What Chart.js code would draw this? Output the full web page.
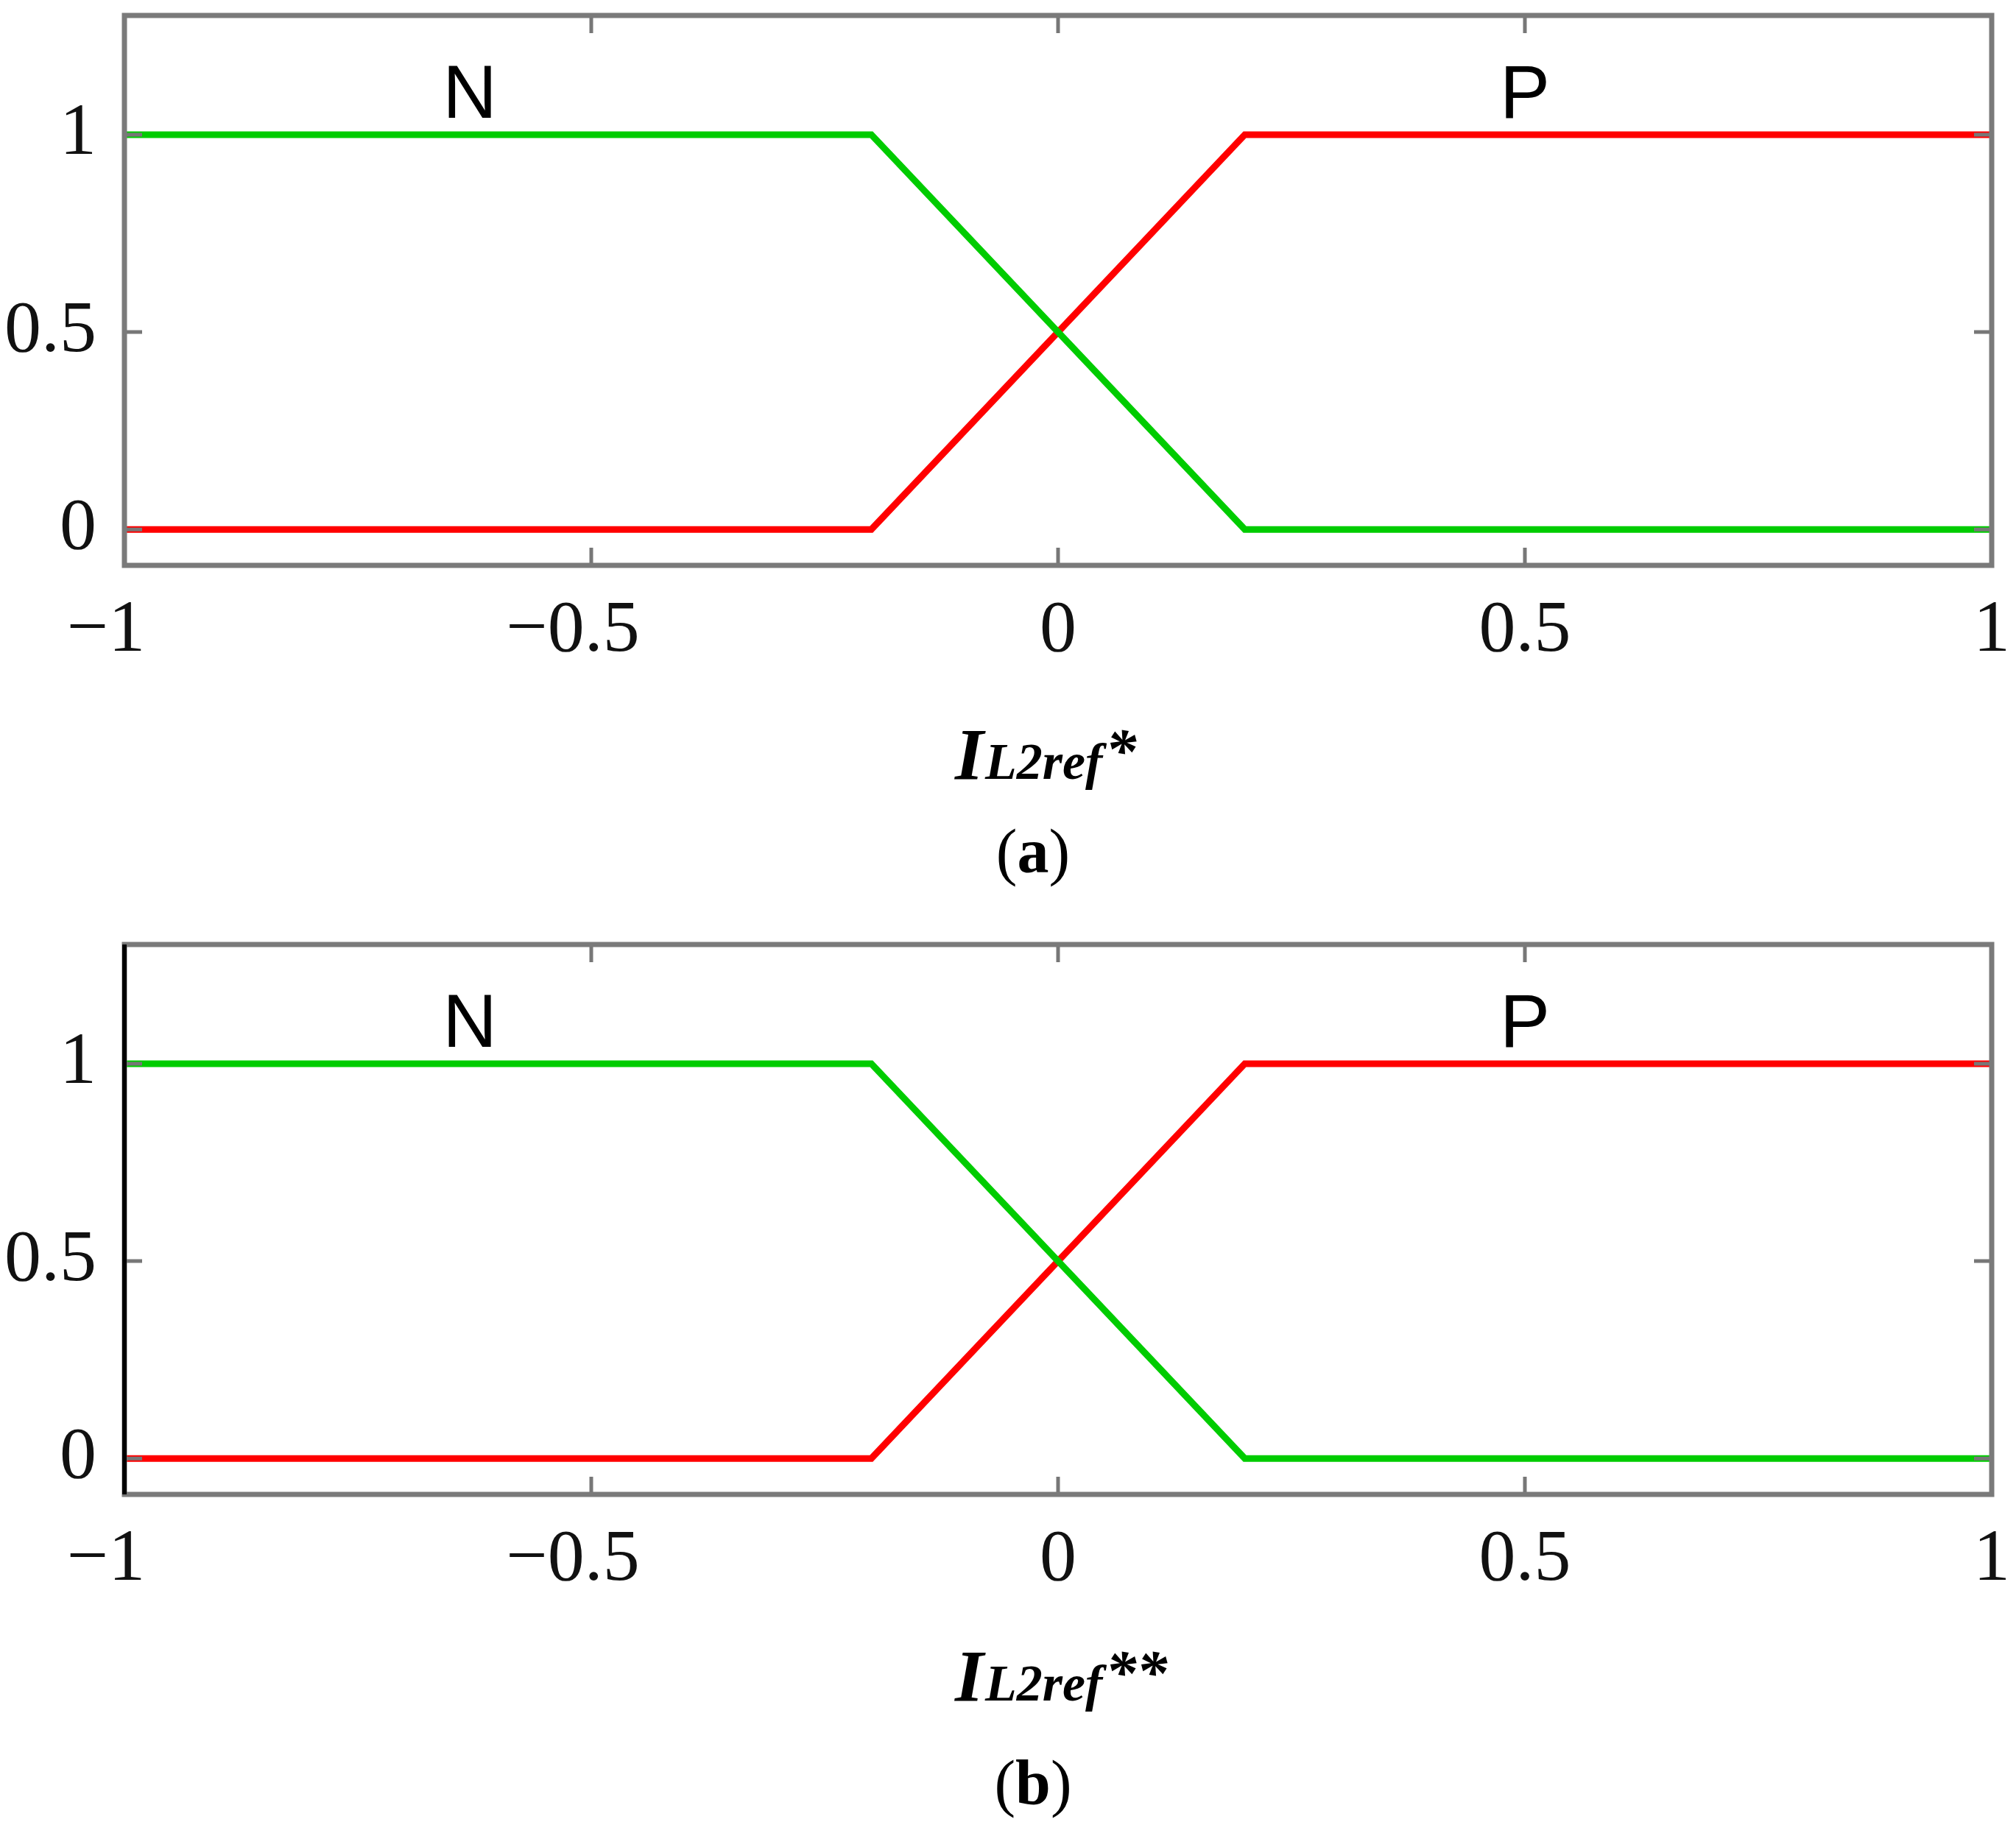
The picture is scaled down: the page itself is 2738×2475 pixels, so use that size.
<!DOCTYPE html>
<html>
<head>
<meta charset="utf-8">
<script src="https://cdn.jsdelivr.net/npm/chart.js@4/dist/chart.umd.min.js"></script>
<style>
  body { margin: 0; background: #fff; }
  canvas { position: absolute; left: 0; }
</style>
</head>
<body>
<canvas id="chartA" width="2738" height="1262" style="top:0px"></canvas>
<canvas id="chartB" width="2738" height="1213" style="top:1262px"></canvas>
<script>
// membership functions (same in both panels)
var xPoints = [-1, -0.2, 0.2, 1];
var negValues = [1, 1, 0, 0];
var posValues = [0, 0, 1, 1];
var xTicks = [-1, -0.5, 0, 0.5, 1];
var yTicks = [0, 0.5, 1];
var setNames = ['N', 'P'];
var setNameX = [-0.63, 0.5];
var setNameY = 1.043;

function pts(vals) {
  return xPoints.map(function(x, i) { return { x: x, y: vals[i] }; });
}

// minus sign hangs to the left, the number itself stays centred on the tick
function xTickText(v) {
  if (v < 0) return '\u2212' + String(-v) + '\u00a0\u00a0';
  return String(v);
}

var serif = '"Liberation Serif", "Times New Roman", serif';

var framePlugin = {
  id: 'frame',
  afterDraw: function(chart, args, opts) {
    var ctx = chart.ctx, a = chart.chartArea;
    var xs = chart.scales.x, ys = chart.scales.y;
    ctx.save();
    // inward ticks on all four sides
    ctx.strokeStyle = '#777';
    ctx.lineWidth = 5;
    ctx.beginPath();
    xTicks.forEach(function(v) {
      var px = xs.getPixelForValue(v);
      ctx.moveTo(px, a.bottom); ctx.lineTo(px, a.bottom - 24);
      ctx.moveTo(px, a.top); ctx.lineTo(px, a.top + 24);
    });
    yTicks.forEach(function(v) {
      var py = ys.getPixelForValue(v);
      ctx.moveTo(a.left, py); ctx.lineTo(a.left + 24, py);
      ctx.moveTo(a.right, py); ctx.lineTo(a.right - 24, py);
    });
    ctx.stroke();
    // box
    ctx.strokeStyle = '#7a7a7a';
    ctx.lineWidth = 7;
    ctx.strokeRect(a.left, a.top, a.right - a.left, a.bottom - a.top);
    if (opts.leftColor) {
      ctx.strokeStyle = opts.leftColor;
      ctx.lineWidth = 6;
      ctx.beginPath();
      ctx.moveTo(a.left, a.top); ctx.lineTo(a.left, a.bottom);
      ctx.stroke();
    }
    // set names
    ctx.fillStyle = '#000';
    ctx.font = '102px "Liberation Sans", Arial, sans-serif';
    ctx.textAlign = 'center';
    ctx.textBaseline = 'alphabetic';
    setNames.forEach(function(n, i) {
      ctx.fillText(n, xs.getPixelForValue(setNameX[i]), ys.getPixelForValue(setNameY));
    });
    // axis title I_L2ref*
    var tx = 1297, ty = a.bottom + opts.titleOffset;
    ctx.textAlign = 'left';
    ctx.font = 'italic bold 100px ' + serif;
    ctx.fillText('I', tx, ty);
    tx += ctx.measureText('I').width + 2;
    ctx.font = 'italic bold 70px ' + serif;
    ctx.fillText('L2ref', tx, ty);
    tx += ctx.measureText('L2ref').width + 4;
    ctx.font = 'italic bold 84px ' + serif;
    ctx.fillText(opts.stars, tx, ty - 10);
    // caption
    var cy = a.bottom + opts.captionOffset;
    ctx.textBaseline = 'middle';
    ctx.font = '86px ' + serif;
    var w1 = ctx.measureText('(').width;
    ctx.font = 'bold 86px ' + serif;
    var w2 = ctx.measureText(opts.caption).width;
    var cx = 1403 - (2 * w1 + w2) / 2;
    ctx.font = '86px ' + serif;
    ctx.fillText('(', cx, cy);
    ctx.font = 'bold 86px ' + serif;
    ctx.fillText(opts.caption, cx + w1, cy);
    ctx.font = '86px ' + serif;
    ctx.fillText(')', cx + w1 + w2, cy);
    ctx.restore();
  }
};

function makeChart(id, frameOpts) {
  var canvas = document.getElementById(id);
  return new Chart(canvas, {
    type: 'line',
    data: {
      datasets: [
        { label: 'N', data: pts(negValues), borderColor: '#00cc00', borderWidth: 9, pointRadius: 0, tension: 0 },
        { label: 'P', data: pts(posValues), borderColor: '#ff0000', borderWidth: 9, pointRadius: 0, tension: 0 }
      ]
    },
    options: {
      responsive: false,
      animation: false,
      devicePixelRatio: 1,
      layout: { padding: { left: 0, right: 33, top: 21, bottom: 0 } },
      plugins: {
        legend: { display: false },
        tooltip: { enabled: false },
        frame: frameOpts
      },
      scales: {
        x: {
          type: 'linear',
          min: -1, max: 1,
          grid: { display: false, drawTicks: false },
          border: { display: false },
          afterBuildTicks: function(s) { s.ticks = xTicks.map(function(v) { return { value: v }; }); },
          afterFit: function(s) {
            s.height = canvas.height - 768;
            s.paddingLeft = 0; s.paddingRight = 0;
          },
          ticks: {
            autoSkip: false, maxRotation: 0, padding: 30, color: '#111',
            font: { family: serif, size: 100 },
            callback: function(v) { return xTickText(v); }
          }
        },
        y: {
          type: 'linear',
          min: -0.091, max: 1.302,
          grid: { display: false, drawTicks: false },
          border: { display: false },
          afterBuildTicks: function(s) { s.ticks = yTicks.map(function(v) { return { value: v }; }); },
          afterFit: function(s) {
            s.width = 169;
            s.paddingTop = 0; s.paddingBottom = 0;
          },
          ticks: {
            padding: 38, color: '#111',
            font: { family: serif, size: 100 },
            callback: function(v) { return String(v); }
          }
        }
      }
    },
    plugins: [framePlugin]
  });
}

makeChart('chartA', { titleOffset: 290, captionOffset: 395, stars: '*', caption: 'a' });
makeChart('chartB', { titleOffset: 280, captionOffset: 398, stars: '**', caption: 'b', leftColor: '#000' });
</script>
</body>
</html>
